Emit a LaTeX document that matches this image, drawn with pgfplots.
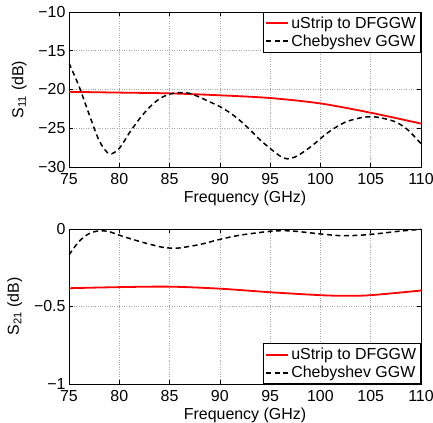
\documentclass[border=0pt]{standalone}
\usepackage{fontspec}
\setmainfont{Liberation Sans}
\usepackage{pgfplots}
\pgfplotsset{compat=1.18}
\begin{document}
\begin{tikzpicture}
\pgfplotsset{
  every axis/.append style={
    scale only axis, width=352bp, height=155bp,
    xmin=75, xmax=110, xtick={75,80,...,110},
    tick align=inside, major tick length=4bp,
    grid=major, major grid style={dotted, gray!70, line width=0.7pt},
    axis line style={line width=0.7pt},
    tick style={line width=0.6pt, black},
    ticklabel style={font=\fontsize{16}{18}\selectfont},
    label style={font=\fontsize{16}{18}\selectfont},
    /pgf/number format/assume math mode=true,
    xlabel={Frequency (GHz)},
    xlabel style={yshift=1bp},
    ylabel style={yshift=5bp},
    xticklabel style={yshift=-3bp},
    legend style={font=\fontsize{16}{18}\selectfont, draw=black, line width=0.6pt, fill=white,
      inner sep=2.5bp, row sep=1bp, cells={anchor=west}},
    legend image code/.code={\draw[#1, line width=1.8pt] (0bp,0bp) -- (22bp,0bp);},
    legend cell align=left,
  }
}
\begin{axis}[at={(0,217bp)}, anchor=south west,
  ymin=-30, ymax=-10, ytick={-30,-25,-20,-15,-10},
  yticklabels={−30,−25,−20,−15,−10},
  ylabel={S\textsubscript{11} (dB)},
  legend style={at={(1,1)}, anchor=north east},
]
\addplot[red, line width=1.8pt, smooth] coordinates {
(75,-20.3) (80,-20.4) (85,-20.5) (90,-20.75) (95,-21.1) (100,-21.8) (105,-23.0) (110,-24.4)};
\addlegendentry{uStrip to DFGGW}
\addplot[black, dash pattern=on 5bp off 3.5bp, line width=1.5pt, smooth] coordinates {
(75,-16.6) (76,-19.6) (77,-23.2) (78,-26.6) (79,-28.3) (80,-27.6) (81,-25.6) (82,-23.8) (83,-22.3) (84,-21.2) (85,-20.6) (86,-20.4) (87,-20.5) (88,-21.0) (89,-21.6) (90,-22.2) (91,-23.0) (92,-24.0) (93,-25.2) (94,-26.5) (95,-27.6) (96,-28.6) (96.7,-28.95) (97.5,-28.7) (98.5,-27.9) (99.5,-26.9) (100.5,-25.8) (101.5,-24.9) (102.5,-24.2) (103.5,-23.8) (104.5,-23.55) (105.5,-23.55) (106.5,-23.8) (107.5,-24.2) (108.5,-25.0) (109.3,-26.0) (110,-27.0)};
\addlegendentry{Chebyshev GGW}
\end{axis}
\begin{axis}[at={(0,0)}, anchor=south west,
  ymin=-1, ymax=0, ytick={-1,-0.5,0},
  yticklabels={−1,−0.5,0},
  ylabel={S\textsubscript{21} (dB)},
  legend style={at={(1,0)}, anchor=south east},
]
\addplot[red, line width=1.8pt, smooth] coordinates {
(75,-0.382) (80,-0.375) (85,-0.372) (90,-0.385) (95,-0.408) (100,-0.427) (102.5,-0.431) (105,-0.427) (110,-0.397)};
\addlegendentry{uStrip to DFGGW}
\addplot[black, dash pattern=on 5bp off 3.5bp, line width=1.5pt, smooth] coordinates {
(75,-0.167) (76,-0.08) (77,-0.03) (78,-0.012) (79,-0.017) (80,-0.04) (82,-0.08) (84,-0.114) (85,-0.123) (86,-0.122) (88,-0.1) (90,-0.067) (92,-0.04) (95,-0.015) (97,-0.012) (100,-0.032) (102,-0.043) (104,-0.04) (106,-0.028) (108,-0.013) (110,-0.002)};
\addlegendentry{Chebyshev GGW}
\end{axis}
\pgfresetboundingbox
\useasboundingbox (-69bp,-39bp) rectangle (364bp,384bp);
\end{tikzpicture}
\end{document}
